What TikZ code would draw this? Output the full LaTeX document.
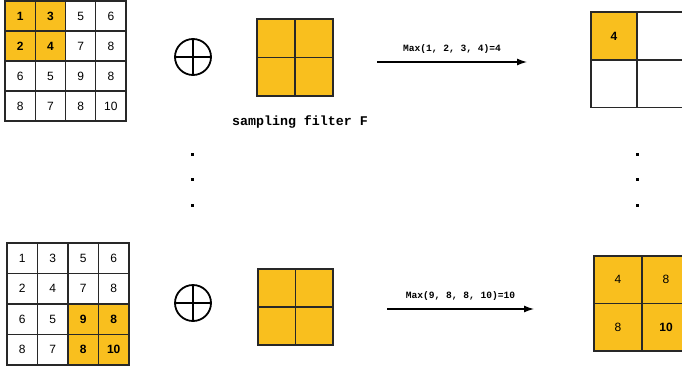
\documentclass[tikz,border=0pt]{standalone}
\usepackage{fontspec}
\usepackage{tikz}
\usetikzlibrary{shapes, arrows.meta, positioning, calc}
\newfontfamily\numfont{Liberation Sans}
\newfontfamily\labfont{Liberation Mono}
\definecolor{gold}{RGB}{249,191,30}
\definecolor{edge}{RGB}{40,40,40}
\tikzstyle{cell} = [rectangle, draw=edge, line width=1.2pt, minimum width=30.25pt, minimum height=30pt, inner sep=0pt, font=\numfont\fontsize{12}{14}\selectfont]
\tikzstyle{hot} = [cell, fill=gold, font=\numfont\bfseries\fontsize{12}{14}\selectfont]
\tikzstyle{fcell} = [rectangle, draw=edge, line width=1.2pt, fill=gold, minimum width=38pt, minimum height=38.5pt, inner sep=0pt]
\tikzstyle{ocell} = [cell, minimum width=46pt, minimum height=47.5pt]
\tikzstyle{ohot} = [hot, minimum width=46pt, minimum height=47.5pt]
\tikzstyle{dot} = [rectangle, fill=black, minimum size=3pt, inner sep=0pt]
\tikzstyle{maxlabel} = [above=5pt, font=\labfont\bfseries\fontsize{9.6}{11}\selectfont]

\begin{document}
\begin{tikzpicture}[x=1pt, y=-1pt]
\useasboundingbox (0,0) rectangle (682,367);
% input maps
\foreach \row [count=\r from 0] in {{1/hot,3/hot,5/cell,6/cell},{2/hot,4/hot,7/cell,8/cell},{6/cell,5/cell,9/cell,8/cell},{8/cell,7/cell,8/cell,10/cell}}
  \foreach \v/\s [count=\c from 0] in \row
    \node (in1\r\c) [\s] at (20.1+30.25*\c, 16+30*\r) {\v};
\foreach \row [count=\r from 0] in {{1/cell,3/cell,5/cell,6/cell},{2/cell,4/cell,7/cell,8/cell},{6/cell,5/cell,9/hot,8/hot},{8/cell,7/cell,8/hot,10/hot}}
  \foreach \v/\s [count=\c from 0] in \row
    \node (in2\r\c) [\s, minimum width=30.5pt, minimum height=30.5pt] at (22.25+30.5*\c, 258.25+30.5*\r) {\v};

% the plus signs
\node (plus1) [circle, draw, line width=1.8pt, minimum size=36pt] at (193,57) {};
\draw[line width=1.8pt] (plus1.north) -- (plus1.south) (plus1.west) -- (plus1.east);
\node (plus2) [circle, draw, line width=1.8pt, minimum size=36pt] at (193,303) {};
\draw[line width=1.8pt] (plus2.north) -- (plus2.south) (plus2.west) -- (plus2.east);

% filters
\foreach \r in {0,1}
  \foreach \c in {0,1} {
    \node (f1\r\c) [fcell] at (276+38*\c, 38.25+38.5*\r) {};
    \node (f2\r\c) [fcell, minimum width=37.5pt, minimum height=38pt] at (276.75+37.5*\c, 288+38*\r) {};
  }
\node (flabel) [font=\labfont\bfseries\fontsize{13.3}{15}\selectfont] at (300,122) {sampling filter F};

% max pooling arrows
\coordinate (m1a) at (377,62);
\coordinate (m1b) at (527,62);
\draw[-{Latex[length=10pt,width=7pt]}, line width=1.3pt] (m1a) -- node[maxlabel] {Max(1, 2, 3, 4)=4} (m1b);
\coordinate (m2a) at (387,309);
\coordinate (m2b) at (534,309);
\draw[-{Latex[length=10pt,width=7pt]}, line width=1.3pt] (m2a) -- node[maxlabel] {Max(9, 8, 8, 10)=10} (m2b);

% outputs
\node (o100) [ohot, minimum height=48pt] at (614,36) {4};
\node (o101) [ocell, minimum height=48pt] at (660,36) {};
\node (o110) [ocell] at (614,83.75) {};
\node (o111) [ocell] at (660,83.75) {};
\node (o200) [cell, fill=gold, minimum width=48pt, minimum height=47.5pt] at (618,279.75) {4};
\node (o201) [cell, fill=gold, minimum width=48pt, minimum height=47.5pt] at (666,279.75) {8};
\node (o210) [cell, fill=gold, minimum width=48pt, minimum height=47.5pt] at (618,327.25) {8};
\node (o211) [hot, minimum width=48pt, minimum height=47.5pt] at (666,327.25) {10};

% vertical dots
\foreach \y [count=\i] in {154,179.5,205} {
  \node (dl\i) [dot] at (192,\y) {};
  \node (dr\i) [dot] at (637,\y) {};
}
\end{tikzpicture}
\end{document}
